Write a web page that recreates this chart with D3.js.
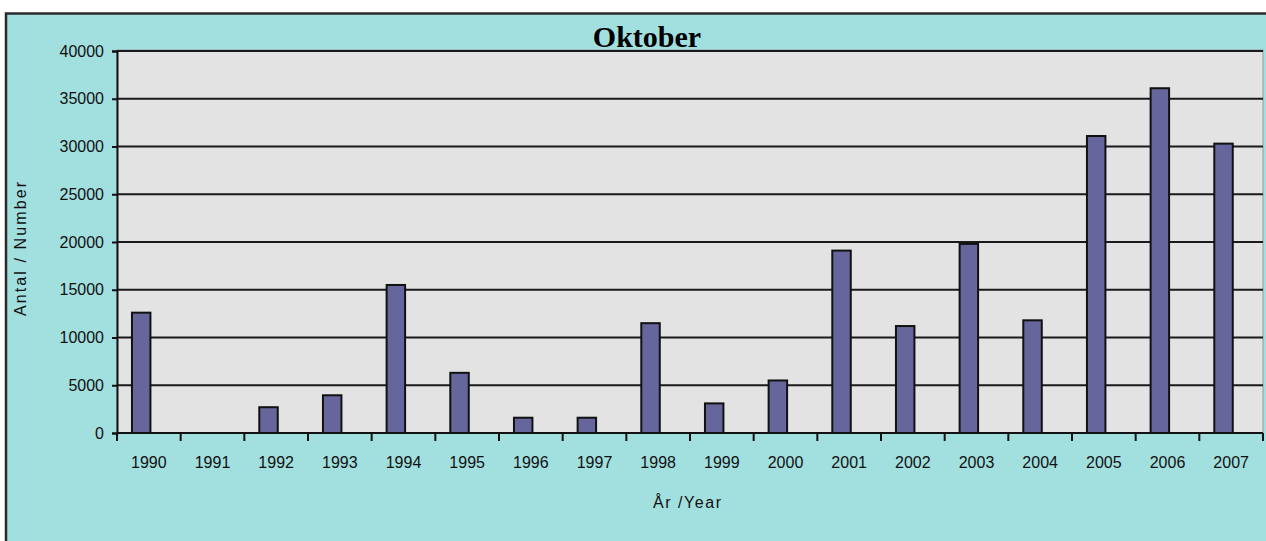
<!DOCTYPE html>
<html>
<head>
<meta charset="utf-8">
<script src="https://cdn.jsdelivr.net/npm/d3@7"></script>
<style>
  html, body { margin: 0; padding: 0; background: #ffffff; }
  svg { display: block; }
</style>
</head>
<body>
<svg id="chart" width="1266" height="541"></svg>
<script>
const years = ["1990","1991","1992","1993","1994","1995","1996","1997","1998","1999","2000","2001","2002","2003","2004","2005","2006","2007"];
const values = [12600, 0, 2700, 3950, 15500, 6300, 1600, 1600, 11500, 3100, 5500, 19100, 11200, 19800, 11800, 31100, 36100, 30300];
const yTicks = [0, 5000, 10000, 15000, 20000, 25000, 30000, 35000, 40000];
const title = "Oktober";
const xTitle = "År /Year";
const yTitle = "Antal / Number";

const W = 1266, H = 541;
const plot = { left: 117, right: 1263, top: 51, bottom: 433 };

const svg = d3.select("#chart");

// outer frame
svg.append("rect")
  .attr("x", 6).attr("y", 13.5)
  .attr("width", W + 10).attr("height", H + 10)
  .attr("fill", "#a2dfdf")
  .attr("stroke", "#2a2a2a").attr("stroke-width", 2.5);

// plot area
svg.append("rect")
  .attr("x", plot.left).attr("y", plot.top - 1)
  .attr("width", plot.right - plot.left).attr("height", plot.bottom - plot.top + 1)
  .attr("fill", "#e3e3e3")
  .attr("stroke", "#9a9a9a").attr("stroke-width", 1);

const x = d3.scaleBand().domain(years).range([plot.left, plot.right]).padding(0);
const y = d3.scaleLinear().domain([0, 40000]).range([plot.bottom, plot.top]);

// gridlines
svg.append("g")
  .selectAll("line")
  .data(yTicks.filter(d => d > 0))
  .join("line")
  .attr("x1", plot.left).attr("x2", plot.right)
  .attr("y1", d => y(d)).attr("y2", d => y(d))
  .attr("stroke", "#1a1a1a").attr("stroke-width", 2);

// bars
svg.append("g")
  .selectAll("rect")
  .data(years.map((yr, i) => ({ yr, v: values[i] })).filter(d => d.v > 0))
  .join("rect")
  .attr("x", d => x(d.yr) + x.bandwidth() * 0.235)
  .attr("width", x.bandwidth() * 0.29)
  .attr("y", d => y(d.v))
  .attr("height", d => y(0) - y(d.v))
  .attr("fill", "#67669c")
  .attr("stroke", "#111").attr("stroke-width", 2);

// y axis
const yAxis = svg.append("g")
  .attr("transform", `translate(${plot.left},0)`)
  .call(d3.axisLeft(y).tickValues(yTicks).tickFormat(d3.format("d")).tickSize(5).tickPadding(8));
yAxis.select(".domain").attr("stroke", "#111").attr("stroke-width", 2);
yAxis.selectAll(".tick line").attr("stroke", "#111").attr("stroke-width", 2);
yAxis.selectAll("text")
  .attr("font-family", "'Liberation Sans', Arial, sans-serif")
  .attr("font-size", 16).attr("fill", "#111");

// x axis labels
const xAxis = svg.append("g")
  .attr("transform", `translate(0,${plot.bottom})`)
  .call(d3.axisBottom(x).tickSize(0).tickPadding(24));
xAxis.select(".domain").remove();
xAxis.selectAll("text")
  .attr("font-family", "'Liberation Sans', Arial, sans-serif")
  .attr("font-size", 16).attr("fill", "#111");

// x axis line + boundary ticks
svg.append("line")
  .attr("x1", plot.left).attr("x2", plot.right)
  .attr("y1", plot.bottom).attr("y2", plot.bottom)
  .attr("stroke", "#111").attr("stroke-width", 2);
const bounds = years.map(d => x(d)).concat([x.range()[1]]);
svg.append("g")
  .selectAll("line")
  .data(bounds)
  .join("line")
  .attr("x1", d => d).attr("x2", d => d)
  .attr("y1", plot.bottom).attr("y2", plot.bottom + 8)
  .attr("stroke", "#111").attr("stroke-width", 2);

// title
svg.append("text")
  .attr("x", 647).attr("y", 47)
  .attr("text-anchor", "middle")
  .attr("font-family", "'Liberation Serif', 'Times New Roman', serif")
  .attr("font-weight", "bold").attr("font-size", 30)
  .attr("fill", "#000")
  .text(title);

// x title
svg.append("text")
  .attr("x", 687).attr("y", 508)
  .attr("text-anchor", "middle")
  .attr("font-family", "'Liberation Sans', Arial, sans-serif")
  .attr("font-size", 16).attr("fill", "#111")
  .attr("textLength", 68).attr("lengthAdjust", "spacing")
  .text(xTitle);

// y title
svg.append("text")
  .attr("transform", "translate(26,249) rotate(-90)")
  .attr("text-anchor", "middle")
  .attr("font-family", "'Liberation Sans', Arial, sans-serif")
  .attr("font-size", 16).attr("fill", "#111")
  .attr("textLength", 134).attr("lengthAdjust", "spacing")
  .text(yTitle);
</script>
</body>
</html>
